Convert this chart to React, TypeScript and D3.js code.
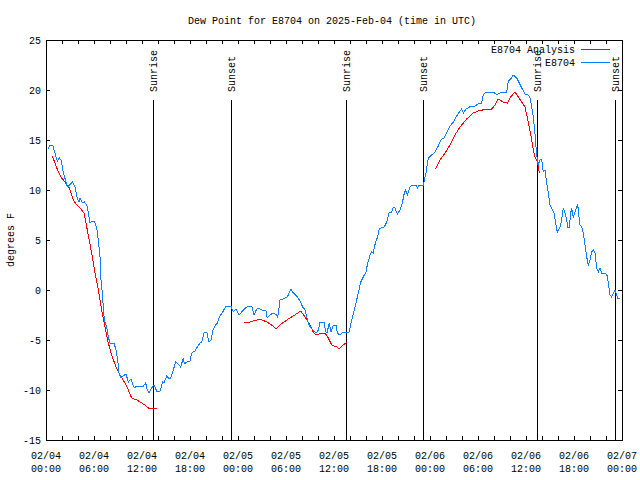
import React from "react";
import * as d3 from "d3";

const TITLE = "Dew Point for E8704 on 2025-Feb-04 (time in UTC)";
const Y_LABEL = "degrees F";
const BASE = Date.UTC(2025, 1, 4, 0, 0, 0);
const HOURS_SPAN = 72;

const yTicks = [-15, -10, -5, 0, 5, 10, 15, 20, 25];

const sunLabels = ["Sunrise", "Sunset", "Sunrise", "Sunset", "Sunrise", "Sunset"];
const sunHours = [13.375, 23.125, 37.5, 47.125, 61.375, 71.125];

// Observed (E8704)
const obsHours = [
  0.29, 0.5, 0.84, 1.12, 1.41, 1.66, 1.88, 2.16, 2.66, 2.94, 3.29, 3.62, 3.91, 4.12, 4.25, 4.54, 4.79, 5.09, 5.29, 5.5,
  5.71, 6.04, 6.34, 6.54, 6.75, 6.84, 7.04, 7.16, 7.29, 7.59, 7.79, 8.0, 8.5, 8.75, 8.96, 9.12, 9.38, 9.66, 10.0, 10.29,
  10.62, 10.79, 11.04, 11.34, 12.16, 12.46, 12.66, 12.88, 13.21, 13.5, 13.84, 14.25, 14.59, 14.75, 15.09, 15.29, 15.59,
  15.91, 16.21, 16.5, 16.84, 17.16, 17.29, 17.59, 18.0, 18.21, 18.62, 18.91, 19.25, 19.46, 19.79, 20.09, 20.38, 20.62,
  20.91, 21.12, 21.41, 21.66, 22.09, 22.5, 23.12, 23.41, 23.75, 24.16, 24.46, 24.79, 25.29, 25.71, 26.0, 26.34, 26.62,
  26.96, 27.5, 27.66, 28.0, 28.41, 28.84, 28.96, 29.25, 29.66, 30.16, 30.62, 30.91, 31.34, 31.75, 32.09, 32.38, 32.59,
  32.79, 33.09, 33.41, 33.75, 34.04, 34.25, 34.75, 34.96, 35.12, 35.41, 35.62, 35.91, 36.25, 36.41, 36.75, 37.16, 37.88,
  38.21, 38.62, 39.04, 39.34, 39.66, 40.0, 40.16, 40.5, 40.71, 40.91, 41.04, 41.25, 41.46, 41.66, 41.88, 42.29, 42.59,
  42.88, 43.21, 43.41, 43.62, 43.91, 44.25, 44.54, 44.79, 44.96, 45.16, 45.5, 45.71, 46.25, 46.41, 46.62, 47.16, 47.5,
  47.79, 48.21, 48.62, 49.04, 49.34, 49.75, 50.09, 50.5, 50.91, 51.34, 51.66, 51.96, 52.16, 52.5, 52.79, 53.09, 53.62,
  54.04, 54.46, 54.66, 55.0, 55.88, 56.25, 56.54, 56.75, 57.59, 57.79, 58.09, 58.41, 58.84, 59.16, 59.46, 59.88, 60.29,
  60.5, 60.71, 60.91, 61.12, 61.25, 61.41, 61.56, 61.75, 61.96, 62.16, 62.38, 62.59, 62.79, 63.0, 63.21, 63.5, 63.71,
  63.91, 64.12, 64.34, 64.54, 64.66, 64.88, 65.09, 65.21, 65.41, 65.59, 65.71, 65.91, 66.12, 66.34, 66.46, 66.62, 66.75,
  66.96, 67.16, 67.38, 67.59, 67.79, 68.0, 68.21, 68.41, 68.62, 68.84, 69.04, 69.25, 69.46, 69.88, 70.16, 70.29, 70.5,
  70.71, 70.91, 71.12, 71.34, 71.46, 71.75,
];
const obsValues = [
  14.1, 14.5, 14.5, 13.7, 12.9, 13.2, 13.0, 11.8, 10.3, 10.5, 10.8, 10.3, 9.2, 8.8, 9.2, 8.7, 8.8, 8.5, 7.8, 6.7,
  6.9, 6.9, 6.2, 5.0, 3.3, 1.3, -0.3, -1.7, -3.0, -3.7, -4.7, -5.3, -5.3, -6.0, -7.0, -8.3, -8.8, -8.6, -8.4, -9.2,
  -8.9, -9.3, -9.8, -9.6, -9.6, -9.3, -10.0, -10.3, -9.8, -9.5, -10.1, -10.1, -9.2, -9.3, -8.6, -8.8, -8.8,
  -8.0, -7.2, -7.4, -7.7, -6.8, -7.4, -7.2, -7.1, -6.3, -6.1, -5.7, -5.3, -5.2, -4.2, -4.2, -5.2, -5.0,
  -3.9, -3.6, -3.3, -2.7, -2.2, -1.6, -1.6, -2.2, -1.9, -2.5, -2.2, -1.9, -1.6, -1.6, -2.5, -1.9, -1.8,
  -2.0, -2.1, -2.8, -2.5, -2.3, -2.5, -2.8, -1.0, -0.9, -0.7, 0.1, -0.3, -0.6, -1.1, -1.7, -2.0, -2.7,
  -3.3, -3.8, -4.0, -4.3, -4.0, -3.2, -3.2, -4.2, -4.3, -3.3, -4.2, -3.5, -3.5, -4.3, -4.5, -4.2, -4.2,
  -3.0, -1.7, -0.3, 0.8, 1.3, 1.8, 2.5, 3.5, 3.8, 3.7, 4.3, 4.9, 5.3, 6.1, 6.2, 6.3, 6.8,
  7.7, 7.8, 8.3, 8.2, 7.6, 8.0, 8.7, 9.7, 10.0, 9.5, 10.3, 10.5, 10.5, 10.2, 10.5, 10.5, 11.7,
  13.2, 13.5, 13.8, 14.4, 15.0, 15.2, 15.7, 16.4, 16.8, 17.4, 17.8, 18.1, 17.7, 18.1, 18.2, 18.4, 18.4,
  18.6, 18.7, 19.5, 19.8, 19.8, 19.6, 19.6, 19.7, 19.8, 20.9, 21.1, 21.5, 21.2, 20.7, 20.2, 19.6, 19.5,
  19.2, 18.3, 17.3, 15.7, 14.3, 13.0, 12.6, 13.0, 13.1, 11.8, 12.0, 10.7, 9.7, 8.5, 8.2, 7.7, 6.7,
  5.8, 6.1, 6.5, 7.5, 8.2, 7.7, 7.0, 6.3, 6.3, 7.7, 8.2, 7.2, 7.8, 8.3, 8.6, 7.3, 6.5,
  6.3, 5.7, 4.5, 3.3, 2.5, 3.0, 3.8, 4.0, 3.7, 2.2, 1.8, 2.2, 1.7, 1.7, 1.4, 0.7, -0.5,
  -0.7, -0.3, 0.0, -0.5, -0.8, -0.8,
];

// Analysis (E8704 Analysis); null marks gaps
const anaHours = [
  0.79, 1.12, 1.54, 1.96, 2.38, 2.91, 3.41, 3.84, 4.25, 4.75, 5.09, 5.41, 5.79, 6.12, 6.54, 6.96, 7.38, 7.79, 8.21, 8.75,
  9.25, 9.88, 10.29, 10.71, 11.34, 11.75, 12.38, 12.79, 13.88,
  19.0,
  24.75, 25.5, 26.75, 27.59, 28.21, 28.75, 29.25, 30.09, 30.91, 31.84, 32.38, 33.0, 33.41, 33.75, 34.46, 34.88, 35.29,
  35.71, 36.34, 36.66, 37.16, 37.66,
  43.0,
  48.71, 49.25, 49.88, 50.5, 51.12, 51.75, 52.59, 53.41, 54.04, 55.09, 55.71, 56.12, 56.54, 57.16, 57.66, 58.09, 58.62,
  59.04, 59.46, 59.88, 60.09, 60.41, 60.71, 60.91, 61.12, 61.34, 61.54, 61.66,
];
const anaValues: (number | null)[] = [
  13.4, 12.7, 11.8, 11.2, 10.8, 10.2, 9.0, 8.5, 8.2, 7.7, 6.3, 5.0, 3.3, 1.7, 0.0, -2.0, -3.7, -5.3, -6.5, -7.7,
  -8.5, -9.3, -10.0, -10.8, -11.0, -11.2, -11.5, -11.8, -11.8,
  null,
  -3.3, -3.2, -2.9, -3.2, -3.5, -3.9, -3.5, -3.0, -2.6, -2.1, -2.7, -3.5, -4.2, -4.5, -4.3, -4.3, -4.8,
  -5.5, -5.7, -5.9, -5.5, -5.2,
  null,
  12.1, 13.0, 13.7, 14.5, 15.5, 16.3, 17.1, 17.7, 17.9, 18.1, 18.1, 18.5, 19.1, 18.8, 18.7, 19.3, 19.8,
  19.3, 18.8, 18.3, 17.5, 16.3, 15.0, 14.0, 13.3, 13.0, 12.4, 11.7,
];

const legendLabels = ["E8704 Analysis", "E8704"];
const colors = ["#ff0000", "#0a80ff"];

const W = 640;
const H = 480;
const M = { left: 46, right: 622, top: 40, bottom: 440 };
const FONT = "'Liberation Mono', 'DejaVu Sans Mono', monospace";

const toDate = (h: number) => new Date(BASE + h * 3600 * 1000);

export default function App() {
  const x = d3
    .scaleUtc()
    .domain([toDate(0), toDate(HOURS_SPAN)])
    .range([M.left, M.right]);
  const y = d3.scaleLinear().domain([-15, 25]).range([M.bottom, M.top]);

  const majorTicks = x.ticks(d3.utcHour.every(6)!);
  const minorTicks = x.ticks(d3.utcHour.every(2)!);
  const fmtDate = d3.utcFormat("%m/%d");
  const fmtTime = d3.utcFormat("%H:%M");

  const obsData = obsHours.map((h, i) => ({ t: toDate(h), v: obsValues[i] as number | null }));
  const anaData = anaHours.map((h, i) => ({ t: toDate(h), v: anaValues[i] }));

  const line = d3
    .line<{ t: Date; v: number | null }>()
    .defined((d) => d.v !== null)
    .x((d) => x(d.t))
    .y((d) => y(d.v as number));

  const tickLen = 4;

  return (
    <svg
      width={W}
      height={H}
      style={{ position: "absolute", left: 0, top: 0, background: "#fff" }}
      fontFamily={FONT}
      fontSize={10}
    >
      <rect x={0} y={0} width={W} height={H} fill="#fff" />
      <text x={332} y={24} textAnchor="middle" fill="#000">
        {TITLE}
      </text>

      {/* y ticks & labels */}
      {yTicks.map((t) => (
        <g key={"y" + t} shapeRendering="crispEdges">
          <line x1={M.left} x2={M.left + tickLen} y1={y(t)} y2={y(t)} stroke="#000" />
          <line x1={M.right} x2={M.right - tickLen} y1={y(t)} y2={y(t)} stroke="#000" />
          <text x={41} y={y(t) + 4} textAnchor="end" fill="#000">
            {t}
          </text>
        </g>
      ))}

      {/* x ticks */}
      {minorTicks.map((d, i) => (
        <g key={"xm" + i} shapeRendering="crispEdges">
          <line x1={x(d)} x2={x(d)} y1={M.bottom} y2={M.bottom - tickLen} stroke="#000" />
          <line x1={x(d)} x2={x(d)} y1={M.top} y2={M.top + tickLen} stroke="#000" />
        </g>
      ))}
      {majorTicks.map((d, i) => (
        <g key={"xl" + i}>
          <text x={x(d)} y={459} textAnchor="middle" fill="#000">
            {fmtDate(d)}
          </text>
          <text x={x(d)} y={472} textAnchor="middle" fill="#000">
            {fmtTime(d)}
          </text>
        </g>
      ))}

      <text transform={`translate(14,240) rotate(-90)`} textAnchor="middle" fill="#000">
        {Y_LABEL}
      </text>

      {/* sunrise / sunset */}
      {sunHours.map((h, i) => (
        <g key={"s" + i}>
          <line
            x1={Math.round(x(toDate(h))) + 0.5}
            x2={Math.round(x(toDate(h))) + 0.5}
            y1={100}
            y2={M.bottom}
            stroke="#000"
            shapeRendering="crispEdges"
          />
          <text
            transform={`translate(${Math.round(x(toDate(h))) + 4},92) rotate(-90)`}
            textAnchor="start"
            fill="#000"
          >
            {sunLabels[i]}
          </text>
        </g>
      ))}

      {/* series */}
      <path d={line(anaData) || ""} fill="none" stroke={colors[0]} strokeWidth={1} shapeRendering="crispEdges" />
      <path d={line(obsData) || ""} fill="none" stroke={colors[1]} strokeWidth={1} shapeRendering="crispEdges" />

      {/* legend */}
      {legendLabels.map((l, i) => (
        <g key={"lg" + i}>
          <text x={575} y={53 + i * 13} textAnchor="end" fill="#000">
            {l}
          </text>
          <line
            x1={581}
            x2={610}
            y1={49.5 + i * 13}
            y2={49.5 + i * 13}
            stroke={colors[i]}
            shapeRendering="crispEdges"
          />
        </g>
      ))}

      {/* border */}
      <rect
        x={M.left + 0.5}
        y={M.top + 0.5}
        width={M.right - M.left}
        height={M.bottom - M.top}
        fill="none"
        stroke="#000"
        shapeRendering="crispEdges"
      />
    </svg>
  );
}
